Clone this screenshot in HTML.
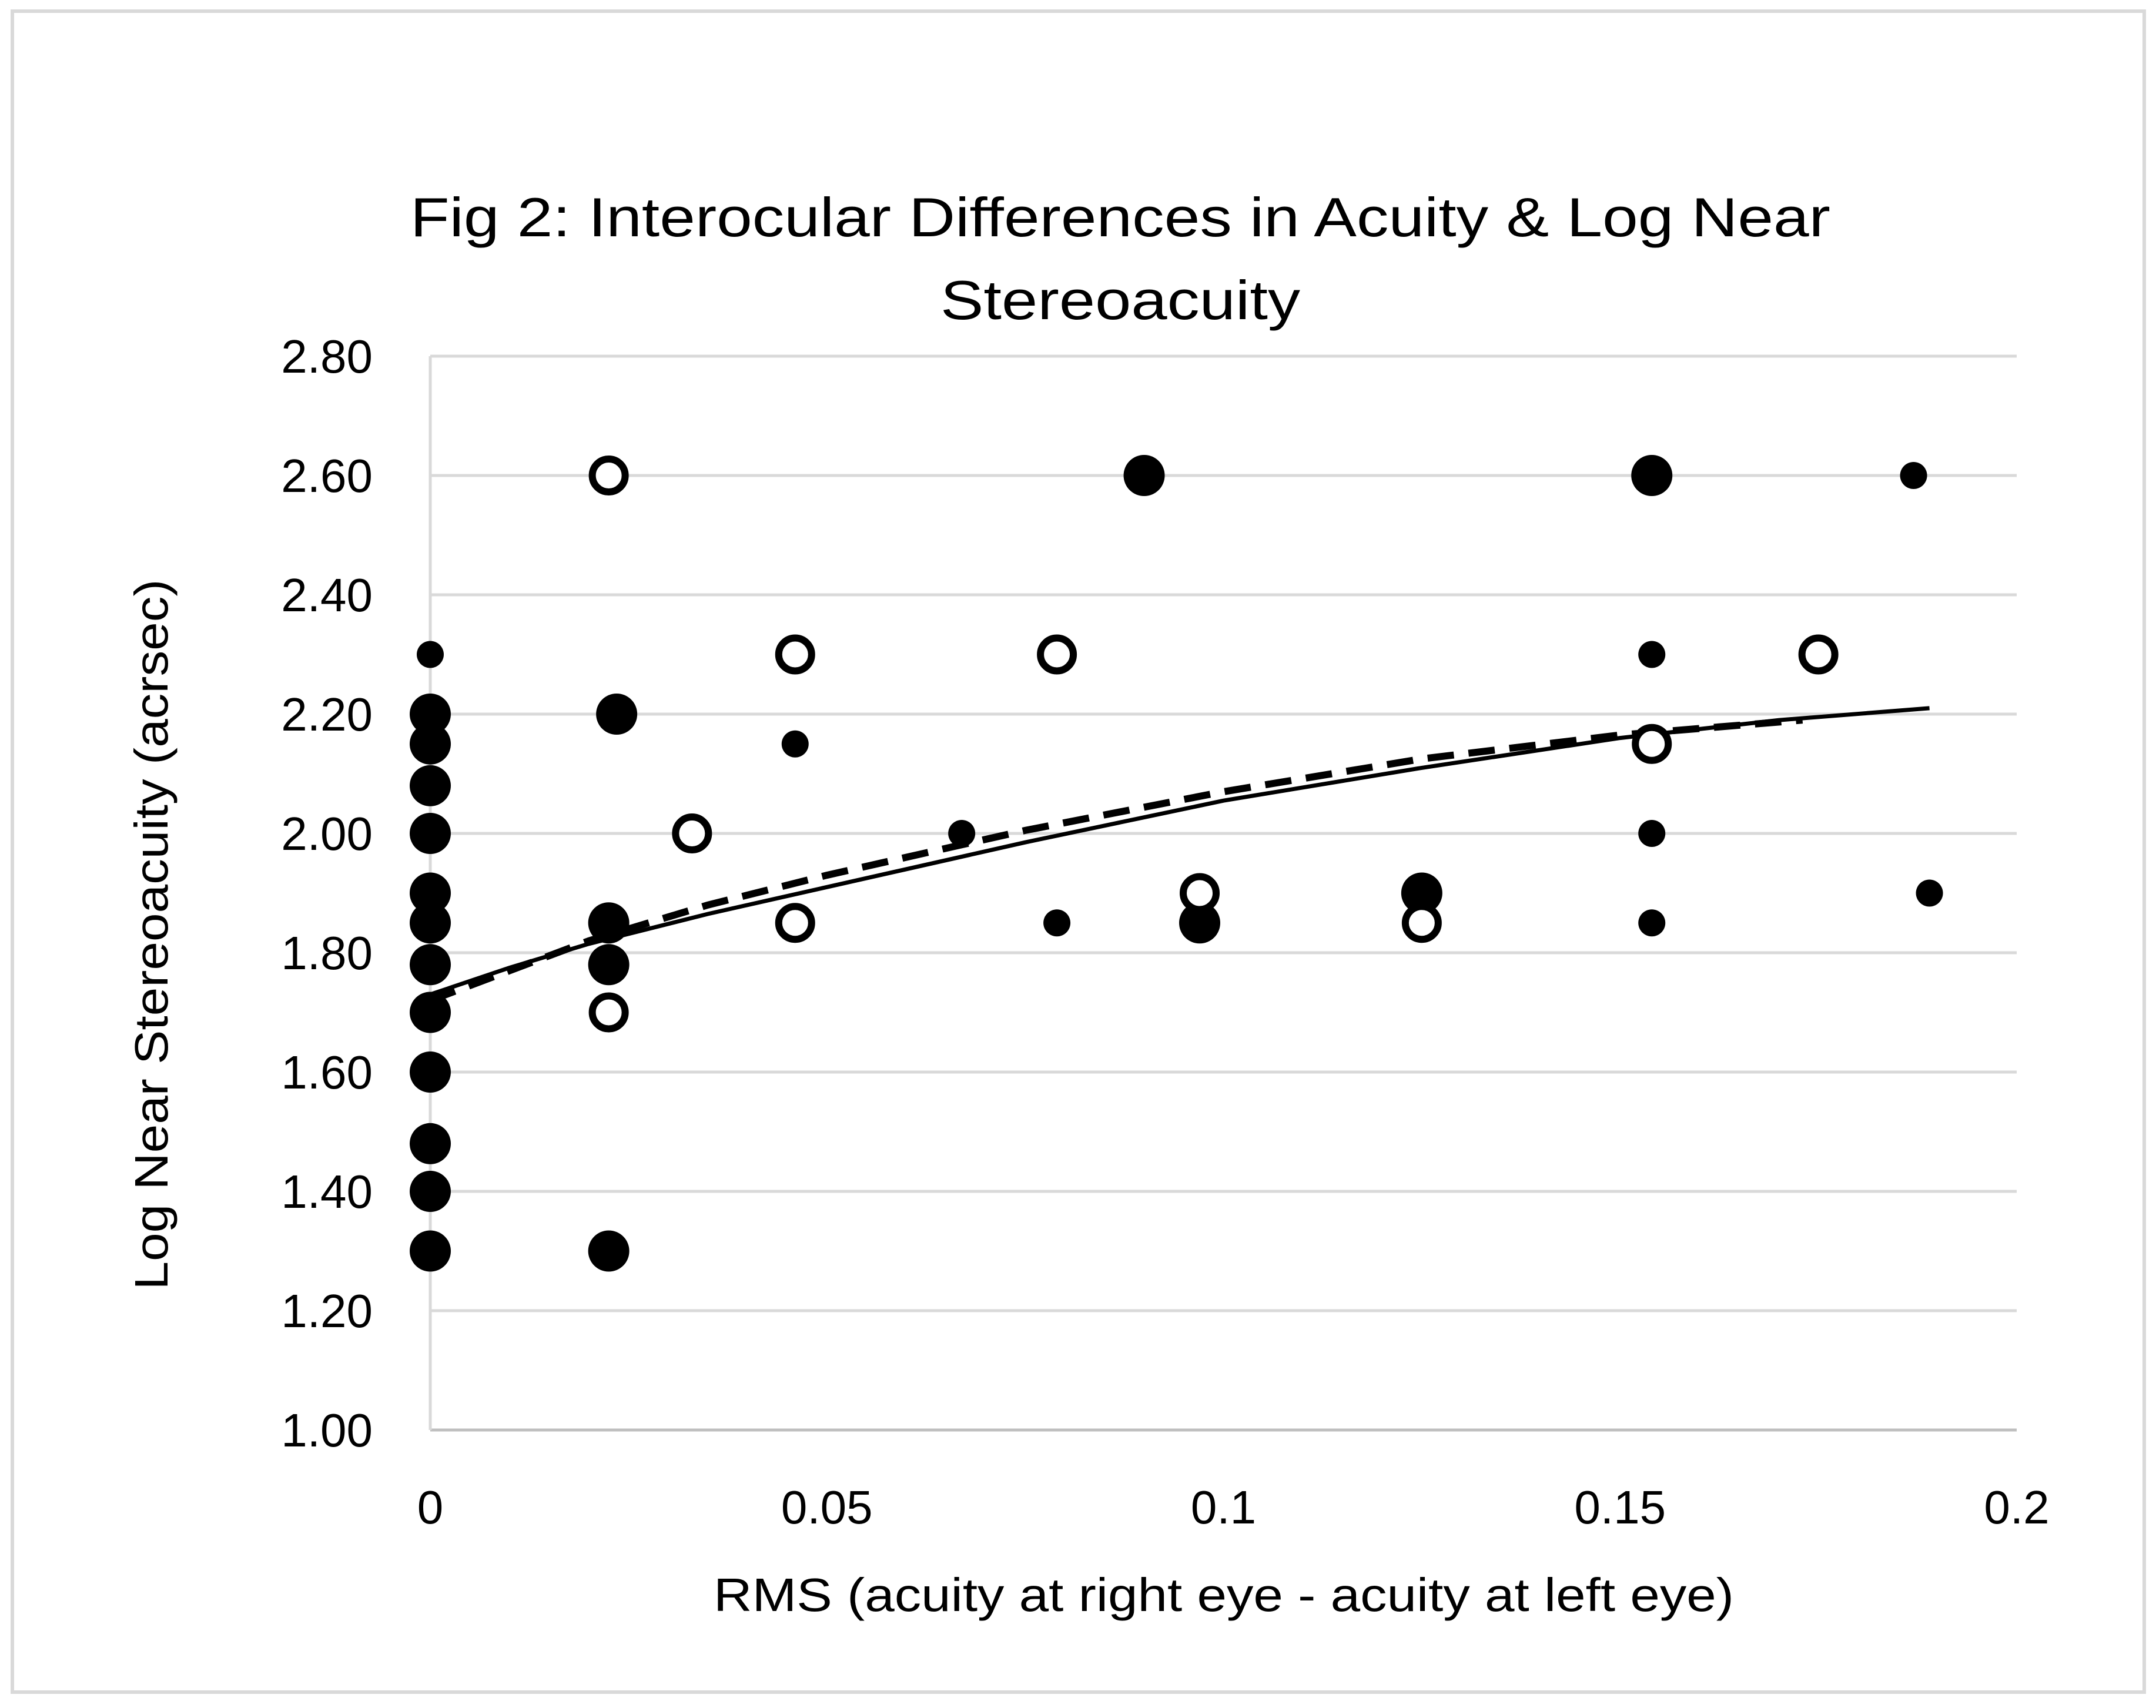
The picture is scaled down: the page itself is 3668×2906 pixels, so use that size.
<!DOCTYPE html>
<html><head><meta charset="utf-8"><style>html,body{margin:0;padding:0;background:#fff}svg{display:block}text{font-family:"Liberation Sans",sans-serif;fill:#000}</style></head>
<body>
<svg id="chart" width="3668" height="2906" viewBox="0 0 3668 2906" xmlns="http://www.w3.org/2000/svg">
<rect x="21" y="19" width="3627" height="2860" fill="#fff" stroke="#d9d9d9" stroke-width="6"/>
<text x="1906" y="402" font-size="94" text-anchor="middle" textLength="2416" lengthAdjust="spacingAndGlyphs">Fig 2: Interocular Differences in Acuity &amp; Log Near</text>
<text x="1906" y="543" font-size="94" text-anchor="middle" textLength="612" lengthAdjust="spacingAndGlyphs">Stereoacuity</text>
<text x="2082" y="2741" font-size="80" text-anchor="middle" textLength="1736" lengthAdjust="spacingAndGlyphs">RMS (acuity at right eye - acuity at left eye)</text>
<text transform="translate(285,1590) rotate(-90)" font-size="80" text-anchor="middle" textLength="1209" lengthAdjust="spacingAndGlyphs">Log Near Stereoacuity (acrsec)</text>
<g id="grid"></g><g id="ticks"></g><g id="trends"></g><g id="points"></g>
</svg>
<script>
const yTicks=[1.0,1.2,1.4,1.6,1.8,2.0,2.2,2.4,2.6,2.8];
const yTickLabels=["1.00","1.20","1.40","1.60","1.80","2.00","2.20","2.40","2.60","2.80"];
const xTicks=[0,0.05,0.1,0.15,0.2];
const xTickLabels=["0","0.05","0.1","0.15","0.2"];
const bigX=[0,0,0,0,0,0,0,0,0,0,0,0,0.0225,0.0225,0.0225,0.0235,0.090,0.097,0.125,0.154];
const bigY=[2.20,2.15,2.08,2.00,1.90,1.85,1.78,1.70,1.60,1.48,1.40,1.30,1.30,1.85,1.78,2.20,2.60,1.85,1.90,2.60];
const smallX=[0,0.046,0.067,0.079,0.154,0.154,0.154,0.187,0.189];
const smallY=[2.30,2.15,2.00,1.85,2.30,2.00,1.85,2.60,1.90];
const openX=[0.0225,0.0225,0.033,0.046,0.046,0.079,0.097,0.125,0.154,0.175];
const openY=[2.60,1.70,2.00,2.30,1.85,2.30,1.90,1.85,2.15,2.30];
const solidX=[0,0.01,0.02,0.035,0.05,0.075,0.1,0.125,0.15,0.17,0.189];
const solidY=[1.73,1.775,1.815,1.865,1.91,1.985,2.055,2.11,2.16,2.19,2.21];
const dashX=[0,0.01,0.02,0.035,0.05,0.075,0.1,0.125,0.15,0.173];
const dashY=[1.72,1.77,1.82,1.88,1.93,2.005,2.07,2.125,2.165,2.19];
const NS="http://www.w3.org/2000/svg";
const X0=732,X1=3431,Y0=2433,Y1=606;
function sx(v){return X0+(v-0)/0.2*(X1-X0);}
function sy(v){return Y0-(v-1)/1.8*(Y0-Y1);}
function mk(t,a,p){const e=document.createElementNS(NS,t);for(const k in a)e.setAttribute(k,a[k]);p.appendChild(e);return e;}
const grid=document.getElementById('grid'),ticks=document.getElementById('ticks'),trends=document.getElementById('trends'),pts=document.getElementById('points');
yTicks.forEach((v,i)=>{
 if(i>0){const l=mk('line',{x1:X0,x2:X1,y1:sy(v),y2:sy(v),stroke:'#d9d9d9','stroke-width':5},grid);
 
 }
 const t=mk('text',{x:634,y:sy(v)+28,'font-size':80,'text-anchor':'end'},ticks);t.textContent=yTickLabels[i];
 
 
});
const ax=mk('line',{x1:X0,x2:X1,y1:Y0,y2:Y0,stroke:'#bfbfbf','stroke-width':5},grid);


const ay=mk('line',{x1:X0,x2:X0,y1:Y1,y2:Y0,stroke:'#d9d9d9','stroke-width':5},grid);


xTicks.forEach((v,i)=>{
 const t=mk('text',{x:sx(v),y:2592,'font-size':80,'text-anchor':'middle'},ticks);t.textContent=xTickLabels[i];
 
 
});
function path(xs,ys){return xs.map((x,i)=>(i?'L':'M')+sx(x).toFixed(1)+','+sy(ys[i]).toFixed(1)).join(' ');}
const d1=mk('path',{d:path(dashX,dashY),fill:'none',stroke:'#000','stroke-width':12,'stroke-dasharray':'45,25'},trends);


const s1=mk('path',{d:path(solidX,solidY),fill:'none',stroke:'#000','stroke-width':7},trends);


bigX.forEach((x,i)=>{const c=mk('circle',{cx:sx(x),cy:sy(bigY[i]),r:35,fill:'#000'},pts);
 
 });
smallX.forEach((x,i)=>{const c=mk('circle',{cx:sx(x),cy:sy(smallY[i]),r:23,fill:'#000'},pts);
 
 });
openX.forEach((x,i)=>{const c=mk('circle',{cx:sx(x),cy:sy(openY[i]),r:28,fill:'#fff',stroke:'#000','stroke-width':12},pts);
 
 });
</script>
</body></html>
